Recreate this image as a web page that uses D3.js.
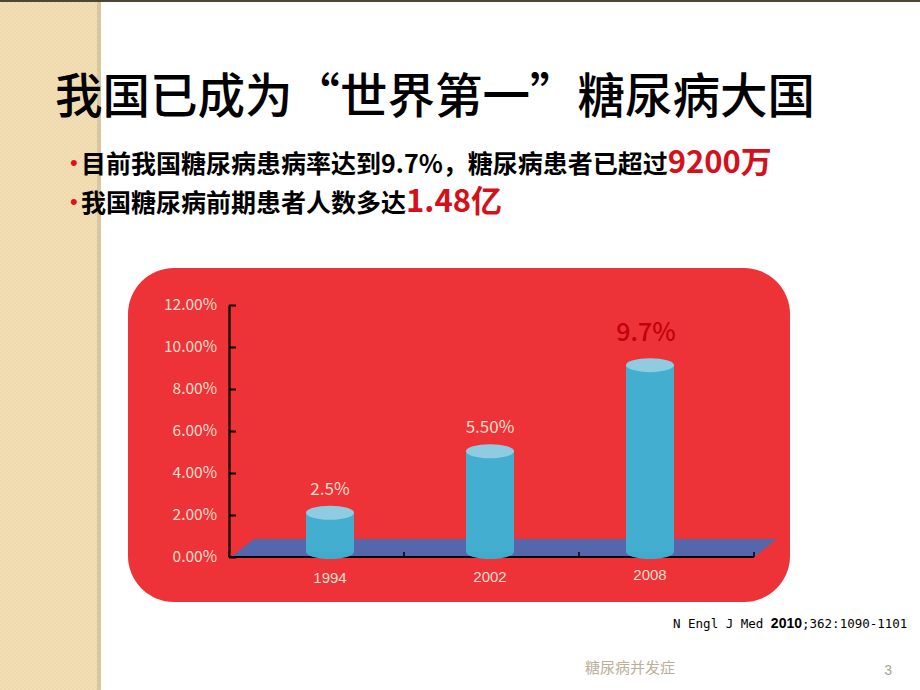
<!DOCTYPE html>
<html>
<head>
<meta charset="utf-8">
<script src="https://cdn.jsdelivr.net/npm/d3@7/dist/d3.min.js"></script>
<style>
  html, body { margin: 0; padding: 0; background: #ffffff; }
  svg { display: block; }
</style>
</head>
<body>
<svg id="chart" width="920" height="690"></svg>
<script>
// ---- data ----
const years = ["1994", "2002", "2008"];
const rates = [2.5, 5.5, 9.7];
const valueLabels = ["2.5%", "5.50%", "9.7%"];
const yTicks = [0, 2, 4, 6, 8, 10, 12];
const yTickLabels = ["0.00%", "2.00%", "4.00%", "6.00%", "8.00%", "10.00%", "12.00%"];
const titleText = "我国已成为“世界第一”糖尿病大国";
const bullet1 = ["目前我国糖尿病患病率达到9.7%，糖尿病患者已超过", "9200万"];
const bullet2 = ["我国糖尿病前期患者人数多达", "1.48亿"];
const citation = ["N Engl J Med ", "2010", ";362:1090-1101"];
const footerText = "糖尿病并发症";
const pageNum = "3";

const CJK = "'Noto Sans CJK SC', 'Noto Sans', sans-serif";
const svg = d3.select("#chart");

// ---- background: left textured strip ----
const defs = svg.append("defs");
const pat = defs.append("pattern").attr("id", "chk")
  .attr("width", 4).attr("height", 4).attr("patternUnits", "userSpaceOnUse");
pat.append("rect").attr("width", 4).attr("height", 4).attr("fill", "#F3DFB6");
pat.append("rect").attr("width", 2).attr("height", 2).attr("fill", "#EFD9AC");
pat.append("rect").attr("x", 2).attr("y", 2).attr("width", 2).attr("height", 2).attr("fill", "#EFD9AC");
svg.append("rect").attr("x", 0).attr("y", 0).attr("width", 97).attr("height", 690).attr("fill", "url(#chk)");
svg.append("rect").attr("x", 97).attr("y", 0).attr("width", 4).attr("height", 690).attr("fill", "#D9C7A2");
svg.append("rect").attr("x", 0).attr("y", 0).attr("width", 920).attr("height", 2).attr("fill", "#4D4634");

// ---- title ----
svg.append("text").attr("x", 435).attr("y", 113)
  .attr("text-anchor", "middle")
  .style("font-family", CJK).style("font-size", "47.5px").style("font-weight", 500)
  .attr("fill", "#000").text(titleText);

// ---- bullets ----
function bullet(y, parts) {
  svg.append("text").attr("x", 70).attr("y", y - 3)
    .style("font-family", "'Liberation Sans', Arial, sans-serif").style("font-size", "22px")
    .attr("fill", "#E0101A").text("•");
  const t = svg.append("text").attr("x", 81).attr("y", y)
    .style("font-family", CJK).style("font-weight", 700);
  t.append("tspan").style("font-size", "25px").attr("fill", "#000").text(parts[0]);
  t.append("tspan").style("font-size", "31px").attr("fill", "#D4111B").text(parts[1]);
}
bullet(173, bullet1);
bullet(212, bullet2);

// ---- chart panel ----
svg.append("rect").attr("x", 128).attr("y", 268).attr("width", 662).attr("height", 334)
  .attr("rx", 46).attr("ry", 46).attr("fill", "#ED3338");

// scales
const y = d3.scaleLinear().domain([0, 12]).range([557, 305]);
const floorX = d3.scaleBand().domain(years).range([229, 754]);
const barX = d3.scaleBand().domain(years).range([250, 730]);
const barY = d3.scaleLinear().domain([0, 12]).range([564, 318]); // back plane of 3D bars
const barBase = 552;

// floor (3D parallelogram)
const fx0 = floorX.range()[0], fx1 = floorX.range()[1];
const depthX = 23, depthY = -18;
svg.append("polygon")
  .attr("points", [[fx0 + 2, y(0)], [fx0 + depthX + 2, y(0) + depthY], [fx1 + depthX, y(0) + depthY], [fx1, y(0)]].map(p => p.join(",")).join(" "))
  .attr("fill", "#5466AC");

// baseline with category boundary ticks
svg.append("line").attr("x1", fx0).attr("x2", fx1).attr("y1", y(0)).attr("y2", y(0))
  .attr("stroke", "#000").attr("stroke-width", 2);
const bounds = years.map(d => floorX(d)).concat([fx1]);
svg.append("g").selectAll("line").data(bounds).join("line")
  .attr("x1", d => d).attr("x2", d => d).attr("y1", y(0)).attr("y2", y(0) - 5)
  .attr("stroke", "#000").attr("stroke-width", 1.5);

// cylinders
const rx = 24, ry = 7;
const cyl = svg.append("g").selectAll("g").data(years).join("g");
cyl.each(function(d, i) {
  const g = d3.select(this);
  const cx = barX(d) + barX.bandwidth() / 2;
  const top = barY(rates[i]);
  g.append("ellipse").attr("cx", cx).attr("cy", barBase).attr("rx", rx).attr("ry", ry).attr("fill", "#41ABCC");
  g.append("rect").attr("x", cx - rx).attr("y", top).attr("width", rx * 2).attr("height", barBase - top).attr("fill", "#43AECF");
  g.append("ellipse").attr("cx", cx).attr("cy", top).attr("rx", rx).attr("ry", ry).attr("fill", "#8FCCE2");
  const big = i === years.length - 1;
  g.append("text").attr("x", big ? cx - 4 : cx).attr("y", top - (big ? 24 : 18))
    .attr("text-anchor", "middle")
    .style("font-family", CJK).style("font-size", big ? "25px" : "17px")
    .style("font-weight", big ? 500 : 400)
    .attr("fill", big ? "#C3000C" : "#F9DECD")
    .text(valueLabels[i]);
  g.append("text").attr("x", cx).attr("y", 583 - i * 1.5)
    .attr("text-anchor", "middle")
    .style("font-family", "'Liberation Sans', Arial, sans-serif").style("font-size", "15px")
    .attr("fill", "#F9DECD").text(d);
});

// vertical axis
const yAxis = d3.axisLeft(y).tickValues(yTicks)
  .tickFormat((d, i) => yTickLabels[i])
  .tickSizeInner(-7).tickSizeOuter(0).tickPadding(12);
const ag = svg.append("g").attr("transform", "translate(229,0)").call(yAxis);
ag.select(".domain").attr("stroke", "#000").attr("stroke-width", 2.2);
ag.selectAll(".tick line").attr("stroke", "#000").attr("stroke-width", 2);
ag.selectAll(".tick text").attr("fill", "#F9DECD")
  .style("font-family", CJK).style("font-size", "15.5px");

// ---- citation ----
const ct = svg.append("text").attr("x", 673).attr("y", 628)
  .style("font-family", "'DejaVu Sans Mono', monospace").style("font-size", "12.5px").attr("fill", "#000");
ct.append("tspan").text(citation[0]);
ct.append("tspan").style("font-family", "'Liberation Sans', Arial, sans-serif").style("font-weight", 700).style("font-size", "14px").text(citation[1]);
ct.append("tspan").text(citation[2]);

// ---- footer ----
svg.append("text").attr("x", 585).attr("y", 673)
  .style("font-family", CJK).style("font-size", "15px").attr("fill", "#BBAF9B").text(footerText);
svg.append("text").attr("x", 892).attr("y", 675).attr("text-anchor", "end")
  .style("font-family", "'Liberation Sans', Arial, sans-serif").style("font-size", "14px").attr("fill", "#A8A296").text(pageNum);
</script>
</body>
</html>
